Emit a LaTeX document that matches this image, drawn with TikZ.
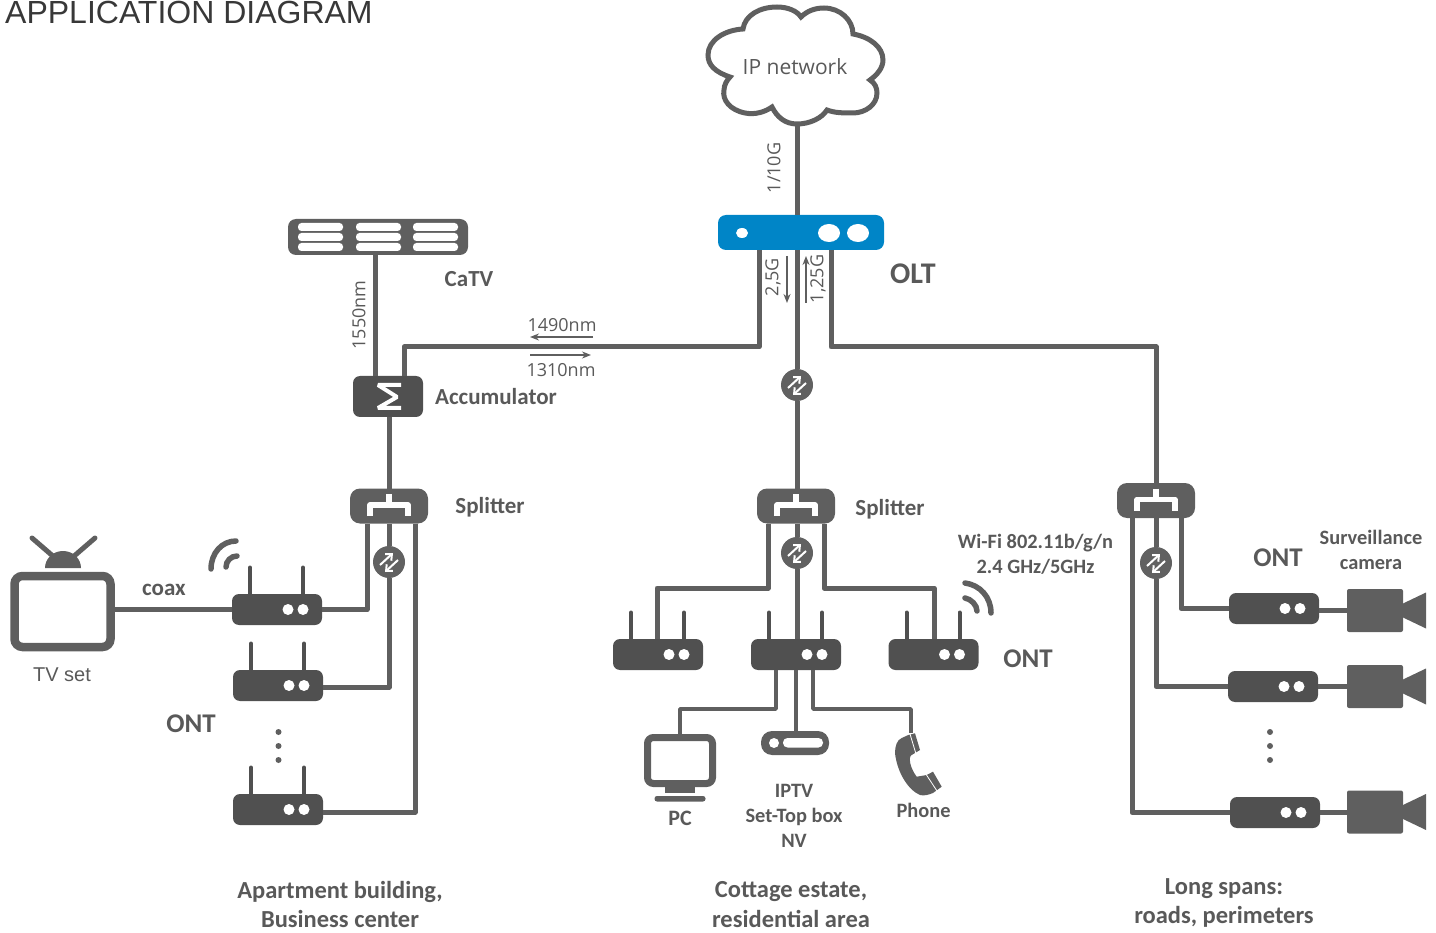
\documentclass[tikz,border=0pt]{standalone}
\usepackage{fontspec}
\setmainfont{Carlito}
\newfontfamily\arialfont{Liberation Sans}
\newfontfamily\openfont{Open Sans}
\usetikzlibrary{arrows.meta}
\definecolor{linegray}{HTML}{5F5F5F}
\definecolor{boxgray}{HTML}{505050}
\definecolor{oltblue}{HTML}{0085C7}
\definecolor{textgray}{HTML}{595959}
\tikzset{
	fibre/.style={draw=linegray,line width=5pt,line join=round},
	thinfibre/.style={draw=linegray,line width=3.5pt,line join=round},
	rate/.style={draw=linegray,line width=1.5pt,-{Stealth[length=9pt,width=7pt]}},
	wave/.style={draw=linegray,line width=5.5pt,line cap=round},
	boldlabel/.style={font=\fontsize{23}{29}\selectfont\bfseries,text=textgray,align=center,inner sep=0pt},
	smallbold/.style={font=\fontsize{20.4}{25}\selectfont\bfseries,text=textgray,align=center,inner sep=0pt},
	zonelabel/.style={font=\fontsize{24.5}{29.5}\selectfont\bfseries,text=textgray,align=center,inner sep=0pt},
	bigbold/.style={font=\fontsize{27}{32}\selectfont\bfseries,text=textgray,inner sep=0pt},
	openlabel/.style={font=\fontsize{18}{22}\selectfont\openfont,text=textgray,inner sep=0pt},
	bodybox/.style={fill=boxgray,rounded corners=7pt,minimum width=90pt,minimum height=31pt,inner sep=0pt,outer sep=0pt},
	ont/.pic={
		\node[bodybox] (-body) at (0,0) {};
		\fill[white] (11,0) circle (5.5) (26,0) circle (5.5);
	},
	ontant/.pic={
		\draw[draw=boxgray,line width=4pt,line cap=round] (-27,-14) -- (-27,-42) (26,-14) -- (26,-42);
		\node[bodybox] (-body) at (0,0) {};
		\fill[white] (11,0) circle (5.5) (26,0) circle (5.5);
	},
	splitter/.pic={
		\node[fill=linegray,rounded corners=10pt,minimum width=78pt,minimum height=35pt,inner sep=0pt,outer sep=0pt] (-body) at (0,0) {};
		\draw[white,line width=5.5pt,line join=round] (0,-12) -- (0,-1) (-19,10) -- (-19,-1) -- (19,-1) -- (19,10);
	},
	xcvr/.pic={
		\node[circle,fill=boxgray!90!white,minimum size=32pt,inner sep=0pt,outer sep=0pt] (-body) at (0,0) {};
		\draw[white,line width=2pt,-{Straight Barb[length=5pt,width=9pt]}] (-9,3) -- (4,-9);
		\draw[white,line width=2pt,-{Straight Barb[length=5pt,width=9pt]}] (9,-2) -- (-4,10);
	},
	camera/.pic={
		\node[fill=linegray,rounded corners=2pt,minimum width=56pt,minimum height=43pt,inner sep=0pt,outer sep=0pt] (-body) at (0,0) {};
		\fill[linegray] (28,-7) -- (51,-18) -- (51,18) -- (28,7) -- cycle;
	},
}
\begin{document}
\begin{tikzpicture}[x=1pt,y=-1pt]
		\useasboundingbox (0,0) rectangle (1436,933);
		
		\node[anchor=base west,inner sep=0pt,font=\fontsize{32}{36}\selectfont\arialfont,text=black!78] (title) at (5,24) {APPLICATION DIAGRAM};
		
		\draw[draw=linegray,line width=5pt,fill=white] (730,77) .. controls (715,72) and (708,65) .. (708,55)
			.. controls (708,40) and (725,30) .. (743,29)
			.. controls (745,15) and (760,7) .. (777,7)
			.. controls (788,7) and (797,11) .. (801,17)
			.. controls (807,11) and (815,8) .. (824,8)
			.. controls (840,8) and (853,20) .. (853,34)
			.. controls (870,37) and (883,47) .. (883,60)
			.. controls (883,68) and (877,75) .. (870,80)
			.. controls (875,83) and (877,88) .. (877,93)
			.. controls (877,105) and (865,113) .. (853,113)
			.. controls (843,113) and (835,113) .. (827,110)
			.. controls (822,118) and (810,124) .. (797,124)
			.. controls (785,124) and (777,117) .. (772,107)
			.. controls (765,112) and (755,115) .. (745,113)
			.. controls (730,110) and (722,100) .. (724,90)
			.. controls (724,85) and (727,80) .. (730,77) -- cycle;
		\node[font=\fontsize{21}{25}\selectfont\openfont,text=textgray,inner sep=0pt] (ipnet) at (795,67) {IP network};
		\coordinate (cloudfoot) at (797,124);
		
		\node[fill=oltblue,rounded corners=8pt,minimum width=166pt,minimum height=35pt,inner sep=0pt,outer sep=0pt] (olt) at (801,232.5) {};
		\fill[white] (742,233) ellipse (6 and 5) (829,233) ellipse (11 and 9) (858,233) ellipse (11 and 9);
		
		\node[fill=linegray,rounded corners=8pt,minimum width=180pt,minimum height=36pt,inner sep=0pt,outer sep=0pt] (catv) at (378,237) {};
		\foreach \slotx in {298,356,413}
			\foreach \sloty in {223,233,243}
				\fill[white,rounded corners=3.5pt] (\slotx,\sloty) rectangle ++(45,8);
		
		\node[fill=boxgray,rounded corners=7pt,minimum width=70pt,minimum height=41pt,inner sep=0pt,outer sep=0pt] (accum) at (388,396.5) {};
		\draw[white,line width=4pt,line join=bevel] (401,385) -- (378,385) -- (397,397) -- (378,408) -- (401,408);
		
		\pic (splA) at (389,506) {splitter};
		\pic (splB) at (796,506) {splitter};
		\pic (splC) at (1156,500.5) {splitter};
		
		\pic (xcvrB) at (797,385) {xcvr};
		\pic (xcvrA) at (389,562) {xcvr};
		\pic (xcvrD) at (797,553) {xcvr};
		\pic (xcvrC) at (1156,563) {xcvr};
		
		\pic (ontA) at (277,609.5) {ontant};
		\pic (ontB) at (278,685.5) {ontant};
		\pic (ontC) at (278,809.5) {ontant};
		\pic (ontD) at (658,654.5) {ontant};
		\pic (ontE) at (796,654.5) {ontant};
		\pic (ontF) at (933.5,654.5) {ontant};
		\pic (ontG) at (1274,608.5) {ont};
		\pic (ontH) at (1273,686.5) {ont};
		\pic (ontI) at (1275,812.5) {ont};
		
		\pic (camA) at (1375,610.5) {camera};
		\pic (camB) at (1375,686.5) {camera};
		\pic (camC) at (1375,812) {camera};
		
		\node[draw=linegray,line width=8.5pt,rounded corners=8pt,minimum width=96pt,minimum height=71pt,inner sep=0pt,outer sep=4pt] (tv) at (62.5,611.5) {};
		\fill[linegray] (45,568) arc (180:360:18 and 17) -- cycle;
		\draw[draw=linegray,line width=5pt,line cap=round] (32,538) -- (54,557) (95,538) -- (73,557);
		
		\node[draw=linegray,line width=7pt,rounded corners=6pt,minimum width=65pt,minimum height=46pt,inner sep=0pt,outer sep=3.5pt] (pc) at (680,760.5) {};
		\fill[linegray] (665,787) rectangle (695,793);
		\fill[linegray,rounded corners=2.5pt] (654.5,796) rectangle (705.5,801.5);
		
		\node[fill=linegray,rounded corners=11pt,minimum width=68pt,minimum height=24pt,inner sep=0pt,outer sep=0pt] (stb) at (795,743) {};
		\fill[white] (774,743) circle (5);
		\fill[white,rounded corners=4.5pt] (783,738) rectangle (823,747.5);
		
		\fill[linegray] (908.3,735) -- (915,733.3) -- (920,750) -- (911.7,755)
			.. controls (908,757) and (910,768) .. (916.7,776.7)
			-- (926.7,775) -- (933,771.7) -- (941.7,786.7) -- (933,793)
			.. controls (928,795) and (924,796) .. (920,795)
			.. controls (908,790) and (897,772) .. (895,753)
			.. controls (895,746) and (897,740) .. (901.7,738) -- cycle;
		\draw[white,line width=0.8pt] (910,734) -- (916,754) (926.5,775) -- (937,791);
		\coordinate (phone) at (911,733);
		
		\draw[fibre] (cloudfoot) -- (olt.north -| cloudfoot);
		\draw[fibre] (olt.south -| cloudfoot) -- (xcvrB-body);
		\draw[fibre] (xcvrB-body) -- (splB-body.north -| cloudfoot);
		\draw[fibre] (olt.south -| 759,0) |- (404,347) -- (accum.north -| 404,0);
		\draw[fibre] (olt.south -| 831,0) |- (1156,347) -- (splC-body.north);
		\draw[fibre] (catv.south -| 375,0) -- (accum.north -| 375,0);
		\draw[fibre] (accum.south -| splA-body.north) -- (splA-body.north);
		
		\draw[fibre] (splA-body.south -| 367,0) |- (ontA-body.east);
		\draw[fibre] (splA-body.south) -- (xcvrA-body);
		\draw[fibre] (xcvrA-body) |- ([yshift=-1.5pt]ontB-body.east);
		\draw[fibre] (splA-body.south -| 415,0) |- ([yshift=-2.5pt]ontC-body.east);
		\draw[fibre] (tv.east |- ontA-body.west) -- (ontA-body.west);
		
		\draw[fibre] (splB-body.south -| 768,0) |- (657,588) -- (ontD-body.north -| 657,0);
		\draw[fibre] (splB-body.south -| xcvrD-body) -- (xcvrD-body);
		\draw[fibre] (xcvrD-body) -- (ontE-body.north -| xcvrD-body);
		\draw[fibre] (splB-body.south -| 824,0) |- (934,588) -- (ontF-body.north -| 934,0);
		
		\draw[thinfibre] (ontE-body.south -| 776,0) |- (680,709) -- (pc.north);
		\draw[fibre,line width=4pt] (ontE-body.south) -- (stb.north -| ontE-body.south);
		\draw[thinfibre] (ontE-body.south -| 813,0) |- (911,709) -- (phone);
		
		\draw[fibre] (splC-body.south -| 1181,0) |- (ontG-body.west);
		\draw[fibre] (splC-body.south) -- (xcvrC-body);
		\draw[fibre] (xcvrC-body) |- (ontH-body.west);
		\draw[fibre] (splC-body.south -| 1132,0) |- (ontI-body.west);
		\draw[fibre] (ontG-body.east |- camA-body.west) -- (camA-body.west);
		\draw[fibre] (ontH-body.east) -- (camB-body.west |- ontH-body.east);
		\draw[fibre] (ontI-body.east |- camC-body.west) -- (camC-body.west);
		
		\draw[rate] (787,256) -- (787,303);
		\draw[rate] (806,303) -- (806,256);
		\draw[rate] (593,337) -- (530,337);
		\draw[rate] (530,355) -- (591,355);
		
		\draw[wave] (211,569) .. controls (211,553) and (222,541) .. (236,541);
		\draw[wave] (226,567) .. controls (226,561) and (231,556) .. (237,556);
		\draw[wave] (965,583) .. controls (980,585) and (991,597) .. (991,613);
		\draw[wave] (965,598) .. controls (971,599) and (977,605) .. (977,611);
		
		\foreach \doty in {732,746,760} {
			\fill[linegray] (278.5,\doty) circle (3);
			\fill[linegray] (1270,\doty) circle (3);
		}
		
		\node[openlabel,rotate=90] (rateup) at (774,168) {1/10G};
		\node[openlabel,rotate=90] (ratedown) at (773,277) {2,5G};
		\node[openlabel,rotate=90] (rateback) at (818,279) {1,25G};
		\node[openlabel,rotate=90] (wavecatv) at (359,315) {1550nm};
		\node[openlabel] (wavedown) at (562,325) {1490nm};
		\node[openlabel] (waveup) at (561,370) {1310nm};
		
		\node[boldlabel] (catvlabel) at (469,279) {CaTV};
		\node[bigbold,font=\fontsize{30}{34}\selectfont\bfseries] (oltlabel) at (913,274) {OLT};
		\node[boldlabel] (accumlabel) at (496,397) {Accumulator};
		\node[boldlabel] (splAlabel) at (490,507) {Splitter};
		\node[boldlabel] (splBlabel) at (890,509) {Splitter};
		\node[boldlabel] (coaxlabel) at (164,590) {coax};
		\node[font=\fontsize{20}{24}\selectfont\arialfont,text=textgray,inner sep=0pt] (tvlabel) at (62,675) {TV set};
		\node[bigbold] (ontAlabel) at (191,724) {ONT};
		\node[bigbold] (ontBlabel) at (1028,659) {ONT};
		\node[bigbold] (ontClabel) at (1278,558) {ONT};
		\node[boldlabel,font=\fontsize{22}{26}\selectfont\bfseries] (pclabel) at (680,818) {PC};
		\node[smallbold] (stblabel) at (794,815.5) {IPTV\\Set-Top box\\NV};
		\node[smallbold] (phonelabel) at (923.5,810) {Phone};
		\node[smallbold] (wifilabel) at (1035.5,554.5) {Wi-Fi 802.11b/g/n\\2.4 GHz/5GHz};
		\node[smallbold] (camlabel) at (1371,550) {Surveillance\\camera};
		\node[zonelabel] (zoneA) at (340,904.5) {Apartment building,\\Business center};
		\node[zonelabel] (zoneB) at (791,904.5) {Cottage estate,\\residential area};
		\node[zonelabel] (zoneC) at (1224,903) {Long spans:\\roads, perimeters};
		\end{tikzpicture}
\end{document}
